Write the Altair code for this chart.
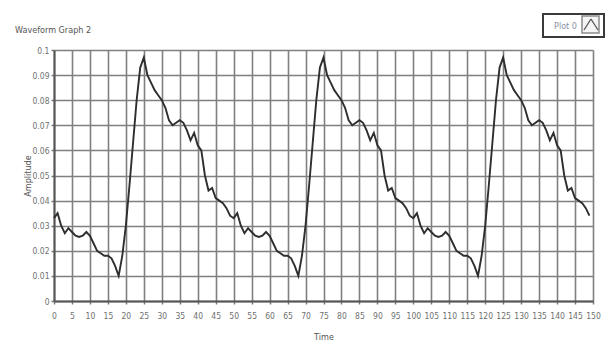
import altair as alt
import pandas as pd

# Sampled amplitude, one list per sawtooth cycle (50 samples each, unit time step)
cycle_1 = [0.033, 0.035, 0.030, 0.027, 0.029, 0.0275, 0.026, 0.0255, 0.026, 0.0275,
           0.026, 0.023, 0.020, 0.019, 0.018, 0.018, 0.017, 0.014, 0.010, 0.018,
           0.030, 0.046, 0.063, 0.080, 0.093, 0.097, 0.090, 0.087, 0.084, 0.082,
           0.080, 0.077, 0.072, 0.070, 0.071, 0.072, 0.071, 0.068, 0.064, 0.067,
           0.062, 0.060, 0.050, 0.044, 0.045, 0.041, 0.040, 0.039, 0.037, 0.034]
cycle_2 = [0.033, 0.035, 0.030, 0.027, 0.029, 0.0275, 0.026, 0.0255, 0.026, 0.0275,
           0.026, 0.023, 0.020, 0.019, 0.018, 0.018, 0.017, 0.014, 0.010, 0.018,
           0.030, 0.046, 0.063, 0.080, 0.093, 0.097, 0.090, 0.087, 0.084, 0.082,
           0.080, 0.077, 0.072, 0.070, 0.071, 0.072, 0.071, 0.068, 0.064, 0.067,
           0.062, 0.060, 0.050, 0.044, 0.045, 0.041, 0.040, 0.039, 0.037, 0.034]
cycle_3 = [0.033, 0.035, 0.030, 0.027, 0.029, 0.0275, 0.026, 0.0255, 0.026, 0.0275,
           0.026, 0.023, 0.020, 0.019, 0.018, 0.018, 0.017, 0.014, 0.010, 0.018,
           0.030, 0.046, 0.063, 0.080, 0.093, 0.097, 0.090, 0.087, 0.084, 0.082,
           0.080, 0.077, 0.072, 0.070, 0.071, 0.072, 0.071, 0.068, 0.064, 0.067,
           0.062, 0.060, 0.050, 0.044, 0.045, 0.041, 0.040, 0.039, 0.037, 0.034]

time = list(range(150))
amplitude = cycle_1 + cycle_2 + cycle_3

x_ticks = list(range(0, 151, 5))
y_ticks = [0, 0.01, 0.02, 0.03, 0.04, 0.05, 0.06, 0.07, 0.08, 0.09, 0.1]

graph_title = "Waveform Graph 2"
plot_label = "Plot 0"

FONT = "Liberation Sans Narrow, DejaVu Sans Condensed, sans-serif"

df = pd.DataFrame({"Time": time, "Amplitude": amplitude})
one_row = pd.DataFrame({"k": [0]})

wave = alt.Chart(df).mark_line(color="#2e2e2e", strokeWidth=1.9).encode(
    x=alt.X(
        "Time:Q",
        scale=alt.Scale(domain=[0, 150], nice=False, zero=False),
        axis=alt.Axis(values=x_ticks, title="Time", format="d",
                      labelOverlap=False, labelFlush=False,
                      titleY=35, titleBaseline="middle"),
    ),
    y=alt.Y(
        "Amplitude:Q",
        scale=alt.Scale(domain=[0, 0.1], nice=False),
        axis=alt.Axis(values=y_ticks, title="Amplitude", format=".2~f",
                      labelFlush=False, titleX=-27, titleY=125.5, titleAngle=-90,
                      titleAlign="center", titleBaseline="middle"),
    ),
)

# Graph caption in the top-left corner
caption = alt.Chart(pd.DataFrame({"t": [graph_title]})).mark_text(
    font=FONT, fontSize=9, color="#555555", align="left", baseline="middle"
).encode(x=alt.value(-39), y=alt.value(-20), text="t:N")

# Plot legend box at the top right
legend_box = alt.Chart(one_row).mark_rect(
    fill="white", stroke="#3a3a3a", strokeWidth=2
).encode(x=alt.value(489), x2=alt.value(550), y=alt.value(-36), y2=alt.value(-13))

icon_box = alt.Chart(one_row).mark_rect(
    fill="#f4f4f4", stroke="#8a8a8a", strokeWidth=1.5
).encode(x=alt.value(528), x2=alt.value(545), y=alt.value(-34), y2=alt.value(-17))

caret_left = alt.Chart(one_row).mark_rule(color="#555555", strokeWidth=1.3).encode(
    x=alt.value(530), x2=alt.value(537), y=alt.value(-20), y2=alt.value(-31))
caret_right = alt.Chart(one_row).mark_rule(color="#555555", strokeWidth=1.3).encode(
    x=alt.value(537), x2=alt.value(544), y=alt.value(-31), y2=alt.value(-20))

legend_text = alt.Chart(pd.DataFrame({"t": [plot_label]})).mark_text(
    font=FONT, fontSize=9, color="#8a92a6", align="left", baseline="middle"
).encode(x=alt.value(500), y=alt.value(-24), text="t:N")

chart = (
    alt.layer(wave, caption, legend_box, icon_box, caret_left, caret_right, legend_text)
    .properties(
        width=539,
        height=251,
        padding={"left": 54, "top": 50, "right": 13, "bottom": 41},
        autosize=alt.AutoSizeParams(type="none"),
        background="white",
    )
    .configure_view(stroke=None)
    .configure_axis(
        grid=True,
        gridColor="#808080",
        gridWidth=1.6,
        domainColor="#555555",
        domainWidth=2,
        tickColor="#7a7a7a",
        tickSize=3,
        tickWidth=1.5,
        labelFont=FONT,
        labelFontSize=8.5,
        labelColor="#707070",
        titleFont=FONT,
        titleFontSize=9,
        titleFontWeight="normal",
        titleColor="#555555",
    )
    .configure_axisX(labelPadding=7)
    .configure_axisY(labelPadding=2)
)

chart.save("out.html", embed_options={"renderer": "svg", "actions": False})
